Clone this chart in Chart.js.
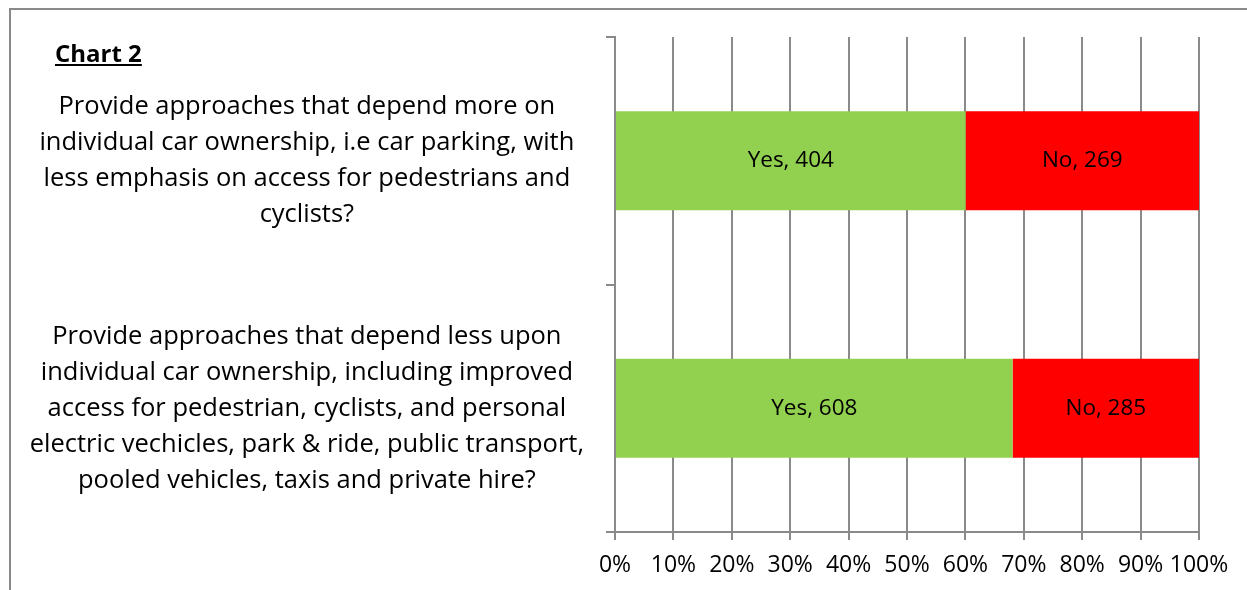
<!DOCTYPE html>
<html>
<head>
<meta charset="utf-8">
<script src="https://cdn.jsdelivr.net/npm/chart.js@4"></script>
<style>
  body { margin: 0; background: #fff; overflow: hidden; }
  #wrap { position: relative; width: 1247px; height: 590px; }
  #frame { position: absolute; left: 9px; top: 8px; width: 1300px; height: 700px;
           border-top: 2px solid #898989; border-left: 2px solid #898989; }
  #title { position: absolute; left: 55px; top: 41px; font-family: "Open Sans", sans-serif;
           font-weight: bold; font-size: 24px; line-height: 24px; text-decoration: underline; color: #000; }
  canvas { position: absolute; left: 0; top: 0; }
</style>
</head>
<body>
<div id="wrap">
  <div id="frame"></div>
  <canvas id="chart2" width="1247" height="590"></canvas>
  <div id="title">Chart 2</div>
</div>
<script>
// Questions (top to bottom) and answer counts
const questions = [
    ['Provide approaches that depend more on', 'individual car ownership, i.e car parking, with', 'less emphasis on access for pedestrians and', 'cyclists?'],
    ['Provide approaches that depend less upon', 'individual car ownership, including improved', 'access for pedestrian, cyclists, and personal', 'electric vechicles, park & ride, public transport,', 'pooled vehicles, taxis and private hire?']
];
const yesCounts = [404, 608];
const noCounts = [269, 285];
const xTicks = [0, 10, 20, 30, 40, 50, 60, 70, 80, 90, 100];

// share of each answer, so the bars stack to 100%
const totals = yesCounts.map((v, i) => v + noCounts[i]);
const yesPct = yesCounts.map((v, i) => v / totals[i] * 100);
const noPct = noCounts.map((v, i) => v / totals[i] * 100);

const labelFont = { family: '"Open Sans", sans-serif', size: 25.5, lineHeight: '36px' };
const tickFont = { family: '"Open Sans", sans-serif', size: 23, lineHeight: '36px' };

// writes "Yes, 404" etc. in the middle of each bar piece
const barLabels = {
    id: 'barLabels',
    afterDatasetsDraw(chart) {
        const ctx = chart.ctx;
        ctx.save();
        ctx.font = '22.5px "Open Sans", sans-serif';
        ctx.fillStyle = '#000';
        ctx.textAlign = 'center';
        ctx.textBaseline = 'middle';
        chart.data.datasets.forEach((ds, di) => {
            chart.getDatasetMeta(di).data.forEach((bar, i) => {
                const p = bar.getCenterPoint();
                ctx.fillText(ds.label + ', ' + ds.counts[i], p.x, p.y);
            });
        });
        ctx.restore();
    }
};

const ctx = document.getElementById('chart2').getContext('2d');
new Chart(ctx, {
    type: 'bar',
    data: {
        labels: questions,
        datasets: [
            { label: 'Yes', data: yesPct, counts: yesCounts, backgroundColor: '#92D050' },
            { label: 'No', data: noPct, counts: noCounts, backgroundColor: '#FF0000' }
        ]
    },
    options: {
        indexAxis: 'y',
        responsive: false,
        animation: false,
        layout: { padding: { top: 37, right: 48, bottom: 0, left: 0 } },
        datasets: { bar: { categoryPercentage: 1, barPercentage: 0.4 } },
        scales: {
            x: {
                stacked: true,
                min: 0,
                max: 100,
                afterBuildTicks(scale) { scale.ticks = xTicks.map(v => ({ value: v })); },
                afterFit(scale) {
                    scale.height = 58;
                    scale.paddingLeft = 0;
                    scale.paddingRight = 0;
                },
                grid: { color: '#8a8a8a', lineWidth: 2, tickLength: 8 },
                border: { color: '#8a8a8a', width: 2 },
                ticks: { color: '#000', font: tickFont, padding: 7, maxRotation: 0,
                         autoSkip: false, callback: v => v + '%' }
            },
            y: {
                stacked: true,
                afterFit(scale) {
                    scale.width = 615;
                    scale.paddingTop = 0;
                    scale.paddingBottom = 0;
                },
                grid: { drawOnChartArea: false, color: '#8a8a8a', lineWidth: 2, tickLength: 9 },
                border: { color: '#8a8a8a', width: 2 },
                ticks: { color: '#000', font: labelFont, crossAlign: 'center', padding: 22 }
            }
        },
        plugins: {
            legend: { display: false },
            tooltip: { enabled: false }
        }
    },
    plugins: [barLabels]
});
</script>
</body>
</html>
